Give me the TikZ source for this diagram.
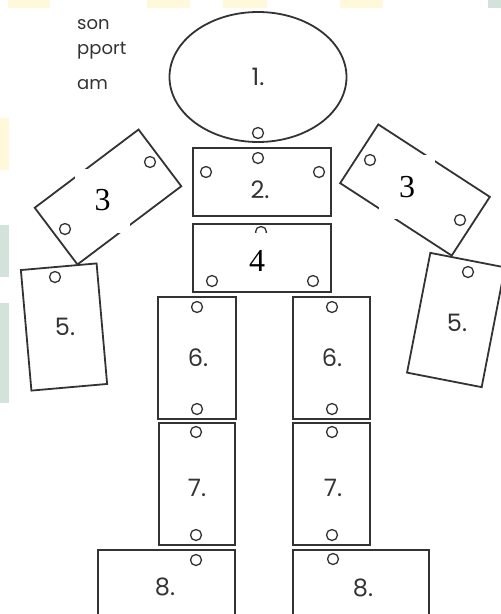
\documentclass[tikz,border=0pt]{standalone}
\usepackage{fontspec}
\newfontfamily\kidfont{Poppins}
\newfontfamily\tagfont{Liberation Serif}
\usetikzlibrary{shapes.geometric}
\definecolor{ink}{HTML}{333333}
\definecolor{paleyellow}{HTML}{FFF8DA}
\definecolor{palegreen}{HTML}{D3E3DB}
\tikzset{
  part/.style={draw=ink, fill=white, line width=1.8pt, inner sep=0pt},
  hole/.style={circle, draw=ink, fill=white, line width=1.3pt, inner sep=0pt, minimum size=11pt},
  num/.style={font=\kidfont\fontsize{24}{24}\selectfont, text=ink, inner sep=0pt},
  tag/.style={fill=white, inner sep=0pt, font=\tagfont\fontsize{32}{32}\selectfont,
    minimum width=#1, minimum height=64pt},
  tag/.default=55pt,
  frag/.style={font=\kidfont\fontsize{18}{18}\selectfont, text=ink, anchor=west, inner sep=0pt},
  strip/.style={fill=#1, draw=none}
}
\begin{document}
\begin{tikzpicture}[x=1pt, y=-1pt]
  \useasboundingbox (0,0) rectangle (501,614);
  \clip (0,0) rectangle (501,614);
  % paper edges
  \foreach \a/\b in {8/50, 147/190, 223/267, 340/383}
    \fill[strip=paleyellow] (\a,0) rectangle (\b,8);
  \fill[strip=palegreen] (488,0) rectangle (501,8);
  \fill[strip=paleyellow] (0,118) rectangle (9,170);
  \fill[strip=palegreen] (0,225) rectangle (9,277);
  \fill[strip=palegreen] (0,303) rectangle (9,403);
  % title scraps
  \node[frag] (t1) at (77,25) {son};
  \node[frag] (t2) at (77,51) {pport};
  \node[frag] (t3) at (77,85) {am};
  % body parts
  \node[part, ellipse, minimum width=177pt, minimum height=130pt] (head) at (258,77) {};
  \node[part, minimum width=138pt, minimum height=68pt] (chest) at (262,182) {};
  \node[part, minimum width=138pt, minimum height=68pt] (belly) at (262,258) {};
  \node[part, rotate=37, minimum width=130pt, minimum height=71pt] (armL) at (108,197) {};
  \node[part, rotate=-33, minimum width=133pt, minimum height=70pt] (armR) at (415,190) {};
  \node[part, rotate=5, minimum width=76pt, minimum height=121pt] (handL) at (64,327) {};
  \node[part, rotate=-11, minimum width=76pt, minimum height=122pt] (handR) at (456,320) {};
  \node[part, minimum width=78pt, minimum height=122pt] (thighL) at (197,358) {};
  \node[part, minimum width=77pt, minimum height=122pt] (thighR) at (331.5,358) {};
  \node[part, minimum width=76pt, minimum height=122pt] (shinL) at (197,484) {};
  \node[part, minimum width=77pt, minimum height=122pt] (shinR) at (331.5,484) {};
  \node[part, minimum width=137pt, minimum height=100pt] (footL) at (166.5,600) {};
  \node[part, minimum width=136pt, minimum height=100pt] (footR) at (361,600) {};
  % punch holes
  \foreach \n/\x/\y in {h1/258/133, c1/258/158, c2/206/172, c3/319/172,
      b1/261/232, b2/212/281, b3/313/281, al1/150/162, al2/65/229,
      ar1/370/160, ar2/460/220, hl1/55/277, hr1/468/272,
      tl1/197/307, tl2/197/409, tr1/332/307, tr2/332/409,
      sl1/196/432, sl2/196/535, sr1/332/432, sr2/332/535,
      fl1/196/560, fr1/333/559}
    \node[hole] (\n) at (\x,\y) {};
  % numbers
  \node[num] (n1) at (head) {1.};
  \node[num] (n2) at (260,190) {2.};
  \node[num] (n5l) at (65,327) {5.};
  \node[num] (n5r) at (457,323) {5.};
  \node[num] (n6l) at (198,358) {6.};
  \node[num] (n6r) at (332,358) {6.};
  \node[num] (n7l) at (197,488) {7.};
  \node[num] (n7r) at (333,488) {7.};
  \node[num] (n8l) at (165,587) {8.};
  \node[num] (n8r) at (363,588) {8.};
  % pasted labels
  \node[tag] (n3l) at (102.5,200.5) {3};
  \node[tag=56pt] (n3r) at (407,187) {3};
  \node[tag, minimum height=56pt] (n4) at (257,261) {4};
\end{tikzpicture}
\end{document}
